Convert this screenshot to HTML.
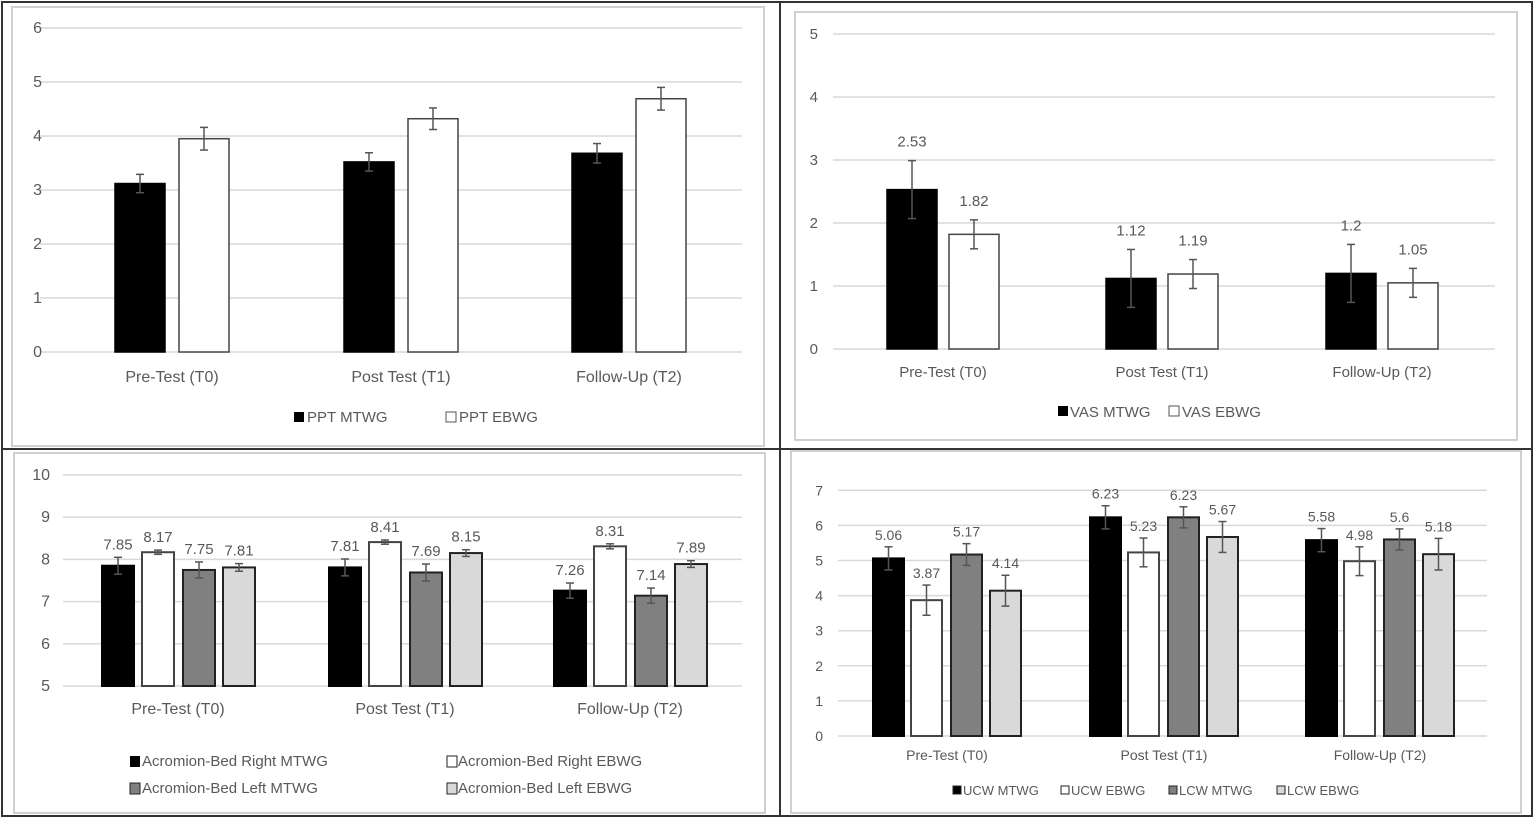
<!DOCTYPE html>
<html><head><meta charset="utf-8"><style>
html,body{margin:0;padding:0;background:#fff;width:1535px;height:820px;overflow:hidden}
svg text{font-family:"Liberation Sans",sans-serif;fill:#595959}
</style></head><body>
<svg id="s" width="1535" height="820" xmlns="http://www.w3.org/2000/svg"></svg>
<script>
var s=document.getElementById('s'),h='';
function R(x,y,w,hh,f,st,sw){h+='<rect x="'+x+'" y="'+y+'" width="'+w+'" height="'+hh+'" fill="'+f+'" stroke="'+(st||'none')+'" stroke-width="'+(sw||1)+'"/>';}
function L(x1,y1,x2,y2,c,w){h+='<line x1="'+x1+'" y1="'+y1+'" x2="'+x2+'" y2="'+y2+'" stroke="'+c+'" stroke-width="'+(w||1)+'"/>';}
function T(x,y,t,fs,a){h+='<text x="'+x+'" y="'+y+'" font-size="'+fs+'" text-anchor="'+(a||'middle')+'">'+t+'</text>';}
var fills={k:['#000','#000'],w:['#fff','#444'],g:['#808080','#222'],l:['#d9d9d9','#222']};
function chart(o){
  var y0=o.y0,pu=o.pu;
  for(var v=o.min;v<=o.max;v++){var y=y0-(v-o.min)*pu;L(o.x0,y,o.x1,y,'#d9d9d9',1.5);T(o.lx,y+5,v,o.fs,'end');}
  o.cats.forEach(function(c,i){
    T(c,o.xly,o.names[i],o.fs);
    o.series.forEach(function(sr,j){
      var v=sr.v[i],e=sr.e[i],bx=c+o.off[j],y=y0-(v-o.min)*pu,f=fills[sr.t];
      R(bx,y,o.bw,y0-y,f[0],f[1],o.sw);
      var cx=bx+o.bw/2,yt=y0-(v+e-o.min)*pu,yb=y0-(v-e-o.min)*pu;
      L(cx,yt,cx,yb,'#555',1.5);L(cx-4,yt,cx+4,yt,'#555',1.5);L(cx-4,yb,cx+4,yb,'#555',1.5);
      if(o.lab)T(cx,yt-o.lg,v,o.lfs);
    });
  });
}
R(2,2,1530,814,'none','#333',2);L(780,2,780,816,'#333',2);L(2,449,1532,449,'#333',2);
R(12,7,752,439,'none','#d0d0d0',2);R(795,12,722,428,'none','#d0d0d0',2);
R(14,453,751,360,'none','#d0d0d0',2);R(791,451,730,362,'none','#d0d0d0',2);
var names=['Pre-Test (T0)','Post Test (T1)','Follow-Up (T2)'];
chart({min:0,max:6,y0:352,pu:54,x0:40,x1:742,lx:42,fs:16,xly:382,names:names,cats:[172,401,629],off:[-57,7],bw:50,sw:1.5,
 series:[{t:'k',v:[3.12,3.52,3.68],e:[0.17,0.17,0.18]},{t:'w',v:[3.95,4.32,4.69],e:[0.21,0.2,0.21]}]});
R(294,412,10,10,'#000');T(307,422,'PPT MTWG',15,'start');R(446,412,10,10,'#fff','#555');T(459,422,'PPT EBWG',15,'start');
chart({min:0,max:5,y0:349,pu:63,x0:833,x1:1495,lx:818,fs:15,xly:377,names:names,cats:[943,1162,1382],off:[-56,6],bw:50,sw:1.5,lab:true,lg:14,lfs:15,
 series:[{t:'k',v:[2.53,1.12,1.2],e:[0.46,0.46,0.46]},{t:'w',v:[1.82,1.19,1.05],e:[0.23,0.23,0.23]}]});
R(1058,406,10,10,'#000');T(1070,417,'VAS MTWG',15,'start');R(1169,406,10,10,'#fff','#555');T(1182,417,'VAS EBWG',15,'start');
chart({min:5,max:10,y0:686,pu:42.2,x0:63,x1:742,lx:50,fs:16,xly:714,names:names,cats:[178,405,630],off:[-76,-36,5,45],bw:32,sw:2,lab:true,lg:8,lfs:15,
 series:[{t:'k',v:[7.85,7.81,7.26],e:[0.2,0.2,0.18]},{t:'w',v:[8.17,8.41,8.31],e:[0.05,0.05,0.06]},{t:'g',v:[7.75,7.69,7.14],e:[0.19,0.2,0.18]},{t:'l',v:[7.81,8.15,7.89],e:[0.09,0.08,0.08]}]});
R(130,756,10,11,'#000');T(142,766,'Acromion-Bed Right MTWG',15,'start');R(447,756,10,11,'#fff','#222');T(458,766,'Acromion-Bed Right EBWG',15,'start');
R(130,783,10,11,'#808080','#222');T(142,793,'Acromion-Bed Left MTWG',15,'start');R(447,783,10,11,'#d9d9d9','#222');T(458,793,'Acromion-Bed Left EBWG',15,'start');
chart({min:0,max:7,y0:736,pu:35.1,x0:838,x1:1487,lx:823,fs:14,xly:760,names:names,cats:[947,1164,1380],off:[-74,-36,4,43],bw:31,sw:2,lab:true,lg:7,lfs:14,
 series:[{t:'k',v:[5.06,6.23,5.58],e:[0.33,0.33,0.33]},{t:'w',v:[3.87,5.23,4.98],e:[0.43,0.41,0.41]},{t:'g',v:[5.17,6.23,5.6],e:[0.31,0.3,0.3]},{t:'l',v:[4.14,5.67,5.18],e:[0.44,0.44,0.45]}]});
var lg=[[953,'#000','UCW MTWG'],[1061,'#fff','UCW EBWG'],[1169,'#808080','LCW MTWG'],[1277,'#d9d9d9','LCW EBWG']];
lg.forEach(function(a){R(a[0],786,8,8,a[1],'#222');T(a[0]+10,795,a[2],13,'start');});
s.innerHTML=h;
</script>
</body></html>
